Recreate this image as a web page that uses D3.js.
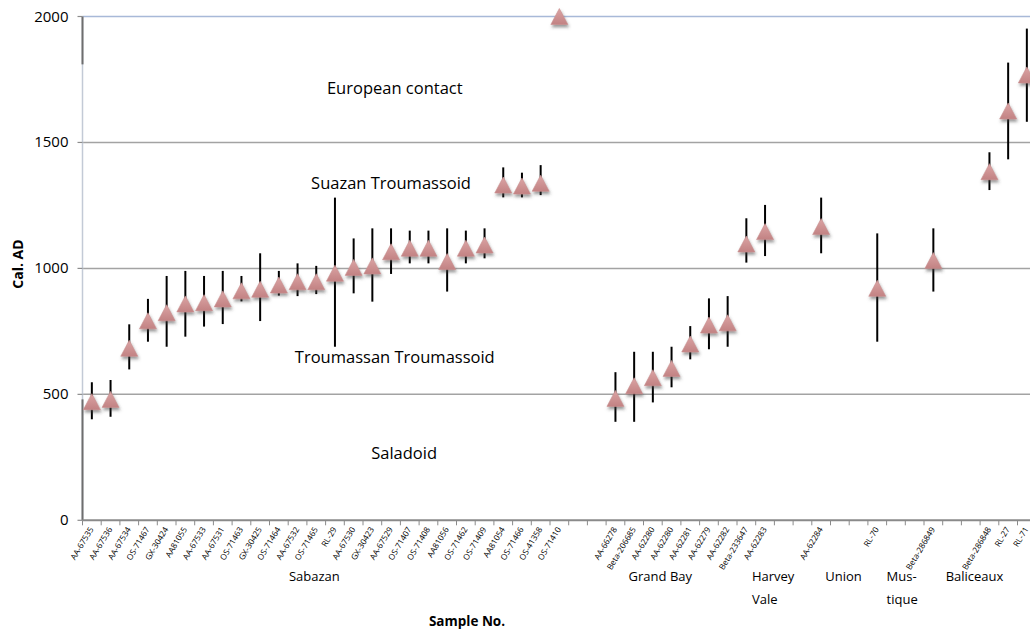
<!DOCTYPE html>
<html>
<head>
<meta charset="utf-8">
<script src="https://cdn.jsdelivr.net/npm/d3@7"></script>
<style>
  body { margin: 0; background: #fff; }
  svg { display: block; font-family: "Open Sans", Lato, sans-serif; }
  .gridline { stroke: #a3a3a3; stroke-width: 1.5; }
  .tick-label { font-size: 15px; fill: #000; }
  .sample-label { font-size: 8.2px; fill: #000; }
  .group-label { font-size: 13px; fill: #000; }
  .period-label { font-size: 16.5px; fill: #000; }
  .axis-title { font-size: 13.5px; font-weight: bold; fill: #000; }
</style>
</head>
<body>
<svg id="chart" width="1030" height="632"></svg>
<script>
// Samples along the x axis ("" = empty slot)
var SAMPLES = [
    "AA-67535", "AA-67536", "AA-67534", "OS-71467", "GX-30424", "AA81055", "AA-67533",
    "AA-67531", "OS-71463", "GX-30425", "OS-71464", "AA-67532", "OS-71465", "RL-29",
    "AA-67530", "GX-30423", "AA-67529", "OS-71407", "OS-71408", "AA81056", "OS-71462",
    "OS-71409", "AA81054", "OS-71466", "OS-41358", "OS-71410", "", "",
    "AA-66278", "Beta-206685", "AA-62280", "AA-62280", "AA-62281", "AA-62279", "AA-62282",
    "Beta-233647", "AA-62283", "", "", "AA-62284", "", "", "RL-70", "", "", "Beta-286849",
    "", "", "Beta-286848", "RL-27", "RL-71"
];

// Cal. AD: point, lower and upper ends of range (null = none)
var DATE_MID = [
    471, 480, 683, 792, 824, 859, 864, 879, 911, 917, 934, 947, 947, 981,
    1004, 1010, 1066, 1080, 1080, 1027, 1080, 1093, 1331, 1327, 1338, 2000, null, null,
    484, 534, 566, 603, 700, 775, 784, 1097, 1146, null, null, 1166, null, null, 921,
    null, null, 1031, null, null, 1384, 1625, 1768
];
var DATE_LOW = [
    401, 411, 599, 709, 689, 729, 769, 779, 869, 791, 892, 890, 898, 689,
    901, 868, 978, 1020, 1020, 908, 1020, 1040, 1282, 1282, 1291, null, null, null,
    391, 391, 468, 528, 639, 679, 689, 1023, 1049, null, null, 1060, null, null, 709,
    null, null, 908, null, null, 1311, 1433, 1582
];
var DATE_HIGH = [
    548, 557, 778, 879, 970, 990, 970, 990, 970, 1060, 990, 1020, 1010, 1281,
    1119, 1159, 1159, 1150, 1150, 1159, 1150, 1159, 1401, 1380, 1410, null, null, null,
    588, 669, 669, 689, 771, 881, 890, 1199, 1252, null, null, 1281, null, null, 1139,
    null, null, 1159, null, null, 1461, 1817, 1952
];

var Y_TICKS = [0, 500, 1000, 1500, 2000];

// Site names under the sample labels, anchored at a category position
var GROUP_NAMES = [["Sabazan"], ["Grand Bay"], ["Harvey", "Vale"], ["Union"], ["Mus-", "tique"], ["Baliceaux"]];
var GROUP_AT = [11.9, 30.4, 35.3, 40.2, 42.5, 47.2];
var GROUP_ANCHOR = ["middle", "middle", "start", "middle", "start", "middle"];

// Period names written inside the plot
var PERIOD_NAMES = ["European contact", "Suazan Troumassoid", "Troumassan Troumassoid", "Saladoid"];
var PERIOD_AT = [16.2, 16.0, 16.2, 16.7];
var PERIOD_YEAR = [1692, 1315, 624, 243];

// dark stretches of the value axis
var AXIS_MARKS = [[1810, 2000], [0, 480]];

var CANVAS_WIDTH = 1030;
var LEFT = 82.5;
var BAND_WIDTH = 18.7;
var PLOT_TOP = 16.5;
var PLOT_BOTTOM = 520.3;
var TRI_W = 17;
var TRI_H = 16;

var svg = d3.select("#chart");

var xScale = d3.scaleBand()
    .domain(d3.range(SAMPLES.length))
    .range([LEFT, LEFT + BAND_WIDTH * SAMPLES.length])
    .padding(0);
var yScale = d3.scaleLinear().domain([0, 2000]).range([PLOT_BOTTOM, PLOT_TOP]);

function xAt(pos) {
    return LEFT + (pos + 0.5) * BAND_WIDTH;
}

// defs: gradient and shadow for the triangle markers
var defs = svg.append("defs");
var grad = defs.append("linearGradient")
    .attr("id", "triFill")
    .attr("x1", 0).attr("y1", 0).attr("x2", 0).attr("y2", 1);
grad.append("stop").attr("offset", "0%").attr("stop-color", "#dba4a4");
grad.append("stop").attr("offset", "100%").attr("stop-color", "#c28283");
var shadow = defs.append("filter")
    .attr("id", "triShadow")
    .attr("x", "-50%").attr("y", "-50%").attr("width", "200%").attr("height", "200%");
shadow.append("feDropShadow")
    .attr("dx", 1).attr("dy", 2.5)
    .attr("stdDeviation", 1.4)
    .attr("flood-color", "#404040")
    .attr("flood-opacity", 0.55);

// Gridlines
Y_TICKS.slice(1).forEach(function (t) {
    svg.append("line")
        .attr("class", "gridline")
        .attr("x1", LEFT)
        .attr("x2", CANVAS_WIDTH)
        .attr("y1", yScale(t))
        .attr("y2", yScale(t))
        .style("stroke", t === 2000 ? "#a8b9d8" : null);
});

// Value axis
svg.append("line")
    .attr("x1", LEFT).attr("x2", LEFT)
    .attr("y1", yScale(0)).attr("y2", yScale(2000))
    .attr("stroke", "#c3cad6")
    .attr("stroke-width", 1.5);
svg.selectAll(".axis-mark")
    .data(AXIS_MARKS)
    .enter()
    .append("line")
    .attr("class", "axis-mark")
    .attr("x1", LEFT).attr("x2", LEFT)
    .attr("y1", d => yScale(d[0]))
    .attr("y2", d => yScale(d[1]))
    .attr("stroke", "#6e6e6e")
    .attr("stroke-width", 2);

Y_TICKS.forEach(function (t) {
    svg.append("line")
        .attr("x1", LEFT - 5).attr("x2", LEFT)
        .attr("y1", yScale(t)).attr("y2", yScale(t))
        .attr("stroke", "#8c8c8c")
        .attr("stroke-width", 1.2);
    svg.append("text")
        .attr("class", "tick-label")
        .attr("text-anchor", "end")
        .attr("x", LEFT - 14)
        .attr("y", yScale(t) + 5)
        .text(t);
});

svg.append("text")
    .attr("class", "axis-title")
    .attr("text-anchor", "middle")
    .attr("transform", "translate(23," + 264 + ") rotate(-90)")
    .style("font-size", "14px")
    .text("Cal. AD");

// Category axis
svg.append("line")
    .attr("x1", LEFT).attr("x2", CANVAS_WIDTH)
    .attr("y1", yScale(0)).attr("y2", yScale(0))
    .attr("stroke", "#8a8a8a")
    .attr("stroke-width", 2);

svg.selectAll(".cat-tick")
    .data(d3.range(SAMPLES.length + 1))
    .enter()
    .append("line")
    .attr("class", "cat-tick")
    .attr("x1", d => LEFT + d * xScale.bandwidth())
    .attr("x2", d => LEFT + d * xScale.bandwidth())
    .attr("y1", yScale(0))
    .attr("y2", yScale(0) + 5)
    .attr("stroke", "#8a8a8a")
    .attr("stroke-width", 1);

svg.selectAll(".sample-label")
    .data(SAMPLES)
    .enter()
    .append("text")
    .attr("class", "sample-label")
    .attr("text-anchor", "end")
    .attr("transform", (d, i) => "translate(" + (xScale(i) + xScale.bandwidth() / 2 + 2) + "," + (yScale(0) + 9) + ") rotate(-59)")
    .text(d => d);

// Site names
GROUP_NAMES.forEach(function (lines, g) {
    lines.forEach(function (txt, k) {
        svg.append("text")
            .attr("class", "group-label")
            .attr("text-anchor", GROUP_ANCHOR[g])
            .attr("x", xAt(GROUP_AT[g]))
            .attr("y", 581 + k * 23)
            .text(txt);
    });
});

svg.append("text")
    .attr("class", "axis-title")
    .attr("text-anchor", "middle")
    .attr("x", 467)
    .attr("y", 626)
    .text("Sample No.");

// Period names
svg.selectAll(".period-label")
    .data(PERIOD_NAMES)
    .enter()
    .append("text")
    .attr("class", "period-label")
    .attr("text-anchor", "middle")
    .attr("x", (d, i) => xAt(PERIOD_AT[i]))
    .attr("y", (d, i) => yScale(PERIOD_YEAR[i]))
    .text(d => d);

// Ranges
var points = d3.range(SAMPLES.length).filter(i => DATE_MID[i] !== null);

svg.selectAll(".range-bar")
    .data(points.filter(i => DATE_LOW[i] !== null))
    .enter()
    .append("line")
    .attr("class", "range-bar")
    .attr("x1", i => xScale(i) + xScale.bandwidth() / 2)
    .attr("x2", i => xScale(i) + xScale.bandwidth() / 2)
    .attr("y1", i => yScale(DATE_LOW[i]))
    .attr("y2", i => yScale(DATE_HIGH[i]))
    .attr("stroke", "#000")
    .attr("stroke-width", 2);

// Triangle markers
function trianglePath() {
    var p = d3.path();
    p.moveTo(0, -TRI_H / 2);
    p.lineTo(TRI_W / 2, TRI_H / 2);
    p.lineTo(-TRI_W / 2, TRI_H / 2);
    p.closePath();
    return p.toString();
}

svg.selectAll(".marker")
    .data(points)
    .enter()
    .append("path")
    .attr("class", "marker")
    .attr("d", trianglePath())
    .attr("transform", i => "translate(" + (xScale(i) + xScale.bandwidth() / 2) + "," + yScale(DATE_MID[i]) + ")")
    .attr("fill", "url(#triFill)")
    .attr("stroke", "#c99191")
    .attr("stroke-width", 0.6)
    .attr("filter", "url(#triShadow)");
</script>
</body>
</html>
